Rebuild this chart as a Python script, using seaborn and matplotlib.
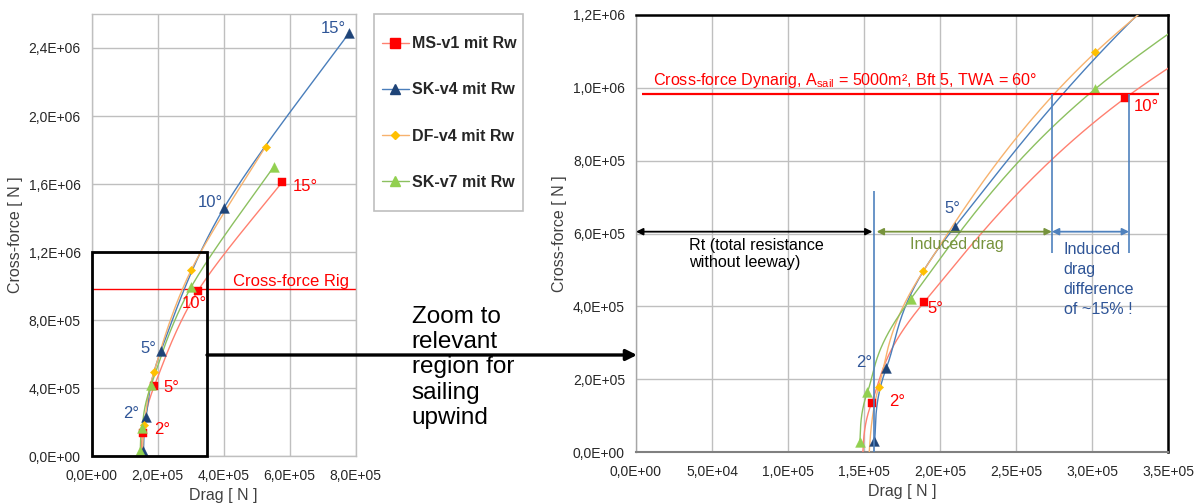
import numpy as np
import matplotlib
matplotlib.use("Agg")
import matplotlib.pyplot as plt
import seaborn as sns
from matplotlib.ticker import FuncFormatter, MultipleLocator
from matplotlib.patches import Rectangle
from matplotlib.lines import Line2D

# ---------------- data ----------------
angles = [0, 2, 5, 10, 15]
ms_v1_drag = [1.488e5, 1.550e5, 1.894e5, 3.217e5, 5.77e5]
ms_v1_cross = [-3.0e4, 1.355e5, 4.11e5, 9.71e5, 1.610e6]
sk_v4_drag = [1.569e5, 1.647e5, 2.097e5, 4.00e5, 7.80e5]
sk_v4_cross = [3.2e4, 2.31e5, 6.18e5, 1.457e6, 2.488e6]
df_v4_drag = [1.528e5, 1.597e5, 1.889e5, 3.022e5, 5.27e5]
df_v4_cross = [-3.0e4, 1.80e5, 4.96e5, 1.0965e6, 1.820e6]
sk_v7_drag = [1.472e5, 1.522e5, 1.806e5, 3.017e5, 5.52e5]
sk_v7_cross = [2.9e4, 1.64e5, 4.20e5, 9.95e5, 1.702e6]
series_names = ["MS-v1 mit Rw", "SK-v4 mit Rw", "DF-v4 mit Rw", "SK-v7 mit Rw"]

cross_force_rig = 9.83e5          # horizontal red line
rt_drag = 1.564e5                 # total resistance without leeway
drag_at_rig_sk_v4 = 2.736e5       # drag where best curve meets cross-force line
drag_at_rig_ms_v1 = 3.244e5       # drag where worst curve meets cross-force line

left_xticks = [0, 2e5, 4e5, 6e5, 8e5]
left_yticks = [0, 4e5, 8e5, 1.2e6, 1.6e6, 2.0e6, 2.4e6]
right_xticks = [0, 5e4, 1e5, 1.5e5, 2e5, 2.5e5, 3e5, 3.5e5]
right_yticks = [0, 2e5, 4e5, 6e5, 8e5, 1.0e6, 1.2e6]

# ---------------- style ----------------
sns.set_style("white")
plt.rcParams['font.family'] = ['Liberation Sans', 'DejaVu Sans']
plt.rcParams['mathtext.fontset'] = 'custom'
plt.rcParams['mathtext.rm'] = 'Liberation Sans'
plt.rcParams['mathtext.it'] = 'Liberation Sans:italic'

line_cols = ['#FF8070', '#4A7EBB', '#F7B26E', '#8CC060']
mark_cols = ['#FF0000', '#1F4478', '#FFC000', '#92D050']
markers = ['s', '^', 'D', '^']
msizes = [36, 50, 18, 50]
RED = '#FF0000'
BLUE_T = '#2F5597'
GREEN_T = '#77933C'
BLUE_L = '#4F81BD'

fig = plt.figure(figsize=(12, 5.04), dpi=100)
W, H = 1200, 504
axL = fig.add_axes([91.7 / W, (H - 456) / H, 264 / W, 442 / H])
axR = fig.add_axes([636 / W, (H - 452.3) / H, 532 / W, 437.6 / H])

drags = [ms_v1_drag, sk_v4_drag, df_v4_drag, sk_v7_drag]
crosses = [ms_v1_cross, sk_v4_cross, df_v4_cross, sk_v7_cross]


def excel_smooth(x, y, sx, sy, n=60):
    P = np.column_stack([np.asarray(x) * sx, np.asarray(y) * sy])
    m = len(P)
    out = []
    for i in range(m - 1):
        p0 = P[i - 1] if i > 0 else P[i]
        p1, p2 = P[i], P[i + 1]
        p3 = P[i + 2] if i + 2 < m else P[i + 1]
        c1 = p1 + (p2 - p0) / 6.0
        c2 = p2 - (p3 - p1) / 6.0
        t = np.linspace(0, 1, n)[:, None]
        seg = (1 - t) ** 3 * p1 + 3 * (1 - t) ** 2 * t * c1 + 3 * (1 - t) * t ** 2 * c2 + t ** 3 * p2
        if i > 0:
            seg = seg[1:]
        out.append(seg)
    S = np.vstack(out)
    return S[:, 0] / sx, S[:, 1] / sy


def fmt(v, pos):
    return f"{v:.1E}".replace('.', ',')


def draw_series(ax, xr, yr, wpx, hpx):
    for i in range(4):
        sx_, sy_ = excel_smooth(drags[i], crosses[i], wpx / xr, hpx / yr)
        sns.lineplot(x=sx_, y=sy_, sort=False, estimator=None, color=line_cols[i],
                     lw=1.0, ax=ax, zorder=3)
    for i in range(4):
        sns.scatterplot(x=drags[i], y=crosses[i], marker=markers[i], s=msizes[i],
                        color=mark_cols[i], edgecolor=mark_cols[i], linewidth=0.3,
                        ax=ax, zorder=4)


def style_axes(ax, xlim, ylim, xt, yt, xminor, yminor):
    ax.set_xlim(*xlim)
    ax.set_ylim(*ylim)
    ax.set_xticks(xt)
    ax.set_yticks(yt)
    ax.xaxis.set_major_formatter(FuncFormatter(fmt))
    ax.yaxis.set_major_formatter(FuncFormatter(fmt))
    if xminor:
        ax.xaxis.set_minor_locator(MultipleLocator(xminor))
    if yminor:
        ax.yaxis.set_minor_locator(MultipleLocator(yminor))
    ax.grid(True, which='major', color='#BFBFBF', lw=1.0)
    ax.set_axisbelow(True)
    ax.tick_params(which='major', length=0, pad=8, labelsize=10, labelcolor='#262626')
    ax.tick_params(which='minor', direction='in', length=3, width=0.8, color='#A6A6A6')
    ax.tick_params(axis='x', which='major', pad=9)
    ax.set_xlabel("Drag [ N ]", fontsize=11.5, color='#404040', labelpad=4)
    ax.set_ylabel("Cross-force [ N ]", fontsize=11.5, color='#404040', labelpad=4)


# ---------------- left chart ----------------
style_axes(axL, (0, 8e5), (0, 2.6e6), left_xticks, left_yticks, None, 8e4)
for s in axL.spines.values():
    s.set_color('#BFBFBF')
    s.set_linewidth(1.0)
axL.axhline(cross_force_rig, color=RED, lw=1.0, zorder=2)
draw_series(axL, 8e5, 2.6e6, 264, 442)
axL.add_patch(Rectangle((0, 0), 3.5e5, 1.2e6, fill=False, ec='black', lw=2.0,
                        clip_on=False, zorder=6))
lab = dict(fontsize=12, ha='center', va='center', zorder=7)
axL.text(7.33e5, 2.512e6, "15°", color=BLUE_T, **lab)
axL.text(3.59e5, 1.492e6, "10°", color=BLUE_T, **lab)
axL.text(1.716e5, 6.34e5, "5°", color=BLUE_T, **lab)
axL.text(1.18e5, 2.51e5, "2°", color=BLUE_T, **lab)
axL.text(6.46e5, 1.584e6, "15°", color=RED, **lab)
axL.text(3.11e5, 8.98e5, "10°", color=RED, **lab)
axL.text(2.42e5, 4.04e5, "5°", color=RED, **lab)
axL.text(2.12e5, 1.53e5, "2°", color=RED, **lab)
axL.text(6.05e5, 1.025e6, "Cross-force Rig", color=RED, **lab)

# ---------------- right chart ----------------
style_axes(axR, (0, 3.5e5), (0, 1.2e6), right_xticks, right_yticks, 1.25e4, 4e4)
axR.spines['left'].set_color('#A6A6A6')
axR.spines['left'].set_linewidth(1.0)
axR.spines['bottom'].set_color('#808080')
axR.spines['bottom'].set_linewidth(1.5)
axR.spines['top'].set_color('black')
axR.spines['top'].set_linewidth(1.8)
axR.spines['right'].set_color('black')
axR.spines['right'].set_linewidth(1.8)
draw_series(axR, 3.5e5, 1.2e6, 532, 437.6)
axR.hlines(cross_force_rig, 4e3, 3.44e5, color=RED, lw=1.6, zorder=5)
axR.vlines(rt_drag, 0, 7.17e5, color=BLUE_L, lw=1.2, zorder=5)
axR.vlines([drag_at_rig_sk_v4, drag_at_rig_ms_v1], 5.47e5, cross_force_rig,
           color=BLUE_L, lw=1.2, zorder=5)
arrow_y = 6.05e5
def darrow(x0, x1, col):
    axR.annotate("", xy=(x1, arrow_y), xytext=(x0, arrow_y),
                 arrowprops=dict(arrowstyle="<|-|>", color=col, lw=1.3,
                                 mutation_scale=10, shrinkA=0, shrinkB=0),
                 zorder=6)
darrow(0, 1.556e5, 'black')
darrow(1.583e5, drag_at_rig_sk_v4, GREEN_T)
darrow(drag_at_rig_sk_v4, drag_at_rig_ms_v1, BLUE_L)

axR.text(1.1e4, 1.02e6, r"Cross-force Dynarig, A$_{\mathrm{sail}}$ = 5000m², Bft 5, TWA = 60°",
         color=RED, fontsize=11.6, ha='left', va='center', zorder=7)
axR.text(3.36e5, 9.47e5, "10°", color=RED, **lab)
axR.text(2.08e5, 6.68e5, "5°", color=BLUE_T, **lab)
axR.text(1.97e5, 3.95e5, "5°", color=RED, **lab)
axR.text(1.50e5, 2.46e5, "2°", color=BLUE_T, **lab)
axR.text(1.72e5, 1.39e5, "2°", color=RED, **lab)
axR.text(3.5e4, 5.445e5, "Rt (total resistance\nwithout leeway)", color='black',
         fontsize=11.6, ha='left', va='center', linespacing=1.2, zorder=7)
axR.text(2.11e5, 5.70e5, "Induced drag", color=GREEN_T, fontsize=11.6,
         ha='center', va='center', zorder=7)
axR.text(2.814e5, 4.73e5, "Induced\ndrag\ndifference\nof ~15% !", color=BLUE_T,
         fontsize=11.6, ha='left', va='center', linespacing=1.42, zorder=7)

# ---------------- legend ----------------
handles = [Line2D([], [], color=line_cols[i], lw=1.0, marker=markers[i],
                  markersize=(6.5 if markers[i] != 'D' else 4.5),
                  markerfacecolor=mark_cols[i], markeredgecolor=mark_cols[i])
           for i in range(4)]
fig.patches.append(Rectangle((374 / W, (H - 211) / H), 149 / W, 197 / H,
                             transform=fig.transFigure, fill=False,
                             ec='#BFBFBF', lw=1.2))
fig.legend(handles, series_names, loc='center', bbox_to_anchor=(449 / W, 1 - 113 / H),
           frameon=False, prop=dict(weight='bold', size=11.5), handlelength=1.75,
           handletextpad=0.15, labelspacing=1.95, borderpad=0)

# ---------------- zoom arrow + text ----------------
fig.text(411.7 / W, 1 - 367.5 / H, "Zoom to\nrelevant\nregion for\nsailing\nupwind",
         fontsize=17.5, ha='left', va='center', linespacing=1.18, color='black')
fig.add_artist(matplotlib.patches.FancyArrowPatch(
    (207 / W, 1 - 355 / H), (637 / W, 1 - 355 / H), transform=fig.transFigure,
    arrowstyle='-|>', mutation_scale=16, lw=2.4, color='black',
    shrinkA=0, shrinkB=0))

fig.savefig("out.png", dpi=100)
